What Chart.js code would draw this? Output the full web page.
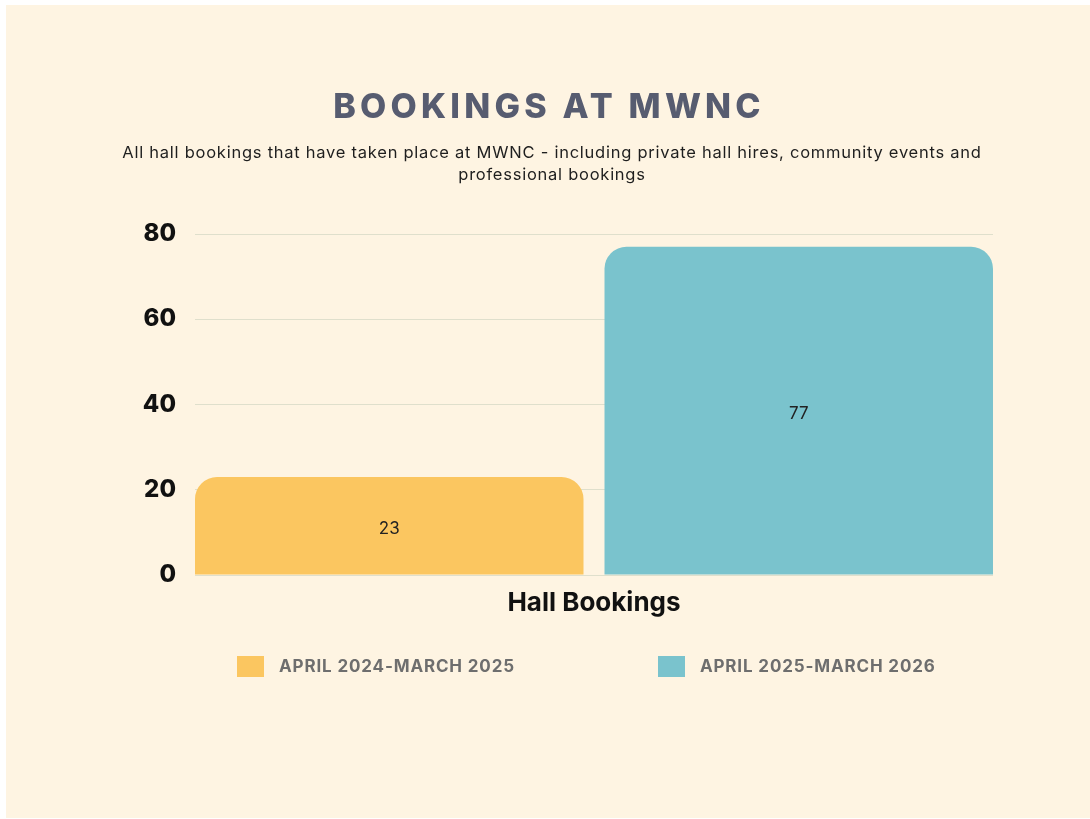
<!DOCTYPE html>
<html>
<head>
<meta charset="utf-8">
<title>Bookings at MWNC</title>
<script src="https://cdn.jsdelivr.net/npm/chart.js@4.4.1/dist/chart.umd.min.js"></script>
<style>
  html, body { margin: 0; padding: 0; background: #fff; }
  #card {
    position: absolute; left: 6px; top: 5px; width: 1084px; height: 813px;
    background: #fef4e2; font-family: Inter, sans-serif; overflow: hidden;
  }
  #card canvas { position: absolute; left: 0; top: 0; }
  h1 {
    position: absolute; left: 0; width: 100%; top: 84px; margin: 0;
    text-align: center; font-size: 34px; line-height: 34px; font-weight: 800;
    letter-spacing: 4.2px; padding-left: 2px; box-sizing: border-box; color: #575c70;
  }
  .sub {
    position: absolute; left: 0; width: 100%; top: 136px; margin: 0;
    padding-left: 8px; box-sizing: border-box;
    text-align: center; font-size: 16.5px; line-height: 22px; letter-spacing: 0.75px; color: #1e1e1e;
  }
  #legend { position: absolute; left: 231px; top: 651px; display: flex; gap: 143px; }
  .item { display: flex; align-items: center; }
  .box { width: 27px; height: 21px; margin-right: 15px; }
  .txt { font-size: 17px; font-weight: 700; letter-spacing: 0.85px; color: #6e6e6e; line-height: 21px; }
</style>
</head>
<body>
<div id="card">
  <canvas id="bookings" width="1084" height="813"></canvas>
  <h1>BOOKINGS AT MWNC</h1>
  <p class="sub">All hall bookings that have taken place at MWNC - including private hall hires, community events and<br>professional bookings</p>
  <div id="legend"></div>
</div>
<script>
// data
const categories = ['Hall Bookings'];
const seriesLabels = ['APRIL 2024-MARCH 2025', 'APRIL 2025-MARCH 2026'];
const seriesColors = ['#fbc660', '#7ac3cd'];
const bookings2024 = [23];
const bookings2025 = [77];
const yTicks = [0, 20, 40, 60, 80];

// numbers inside the bars
const valueLabels = {
    id: 'valueLabels',
    afterDatasetsDraw(chart) {
        const ctx = chart.ctx;
        ctx.save();
        ctx.font = '400 17px Inter';
        ctx.fillStyle = '#222';
        ctx.textAlign = 'center';
        ctx.textBaseline = 'middle';
        chart.data.datasets.forEach((ds, i) => {
            chart.getDatasetMeta(i).data.forEach((bar, j) => {
                ctx.fillText(ds.data[j], bar.x, (bar.y + bar.base) / 2 + 3);
            });
        });
        ctx.restore();
    }
};

const ctx = document.getElementById('bookings').getContext('2d');
const chart = new Chart(ctx, {
    type: 'bar',
    data: {
        labels: categories,
        datasets: [
            { label: seriesLabels[0], data: bookings2024, backgroundColor: seriesColors[0] },
            { label: seriesLabels[1], data: bookings2025, backgroundColor: seriesColors[1] }
        ]
    },
    options: {
        responsive: false,
        animation: false,
        layout: { padding: { top: 229, right: 97, bottom: 183, left: 0 } },
        datasets: {
            bar: {
                borderRadius: 22,
                categoryPercentage: 1.0263,
                barPercentage: 0.9487
            }
        },
        plugins: {
            legend: { display: false },
            tooltip: { enabled: false }
        },
        scales: {
            x: {
                grid: { display: false },
                border: { display: false },
                ticks: {
                    color: '#111',
                    padding: 5,
                    font: { family: 'Inter', size: 26, weight: '700' }
                },
                afterFit(scale) { scale.height = 60; }
            },
            y: {
                min: yTicks[0],
                max: yTicks[yTicks.length - 1],
                grid: { color: '#dfdfcc', drawTicks: false },
                border: { display: false },
                afterBuildTicks(scale) { scale.ticks = yTicks.map(v => ({ value: v })); },
                ticks: {
                    color: '#111',
                    padding: 19,
                    font: { family: 'Inter', size: 24, weight: '800' }
                },
                afterFit(scale) { scale.width = 189; }
            }
        }
    },
    plugins: [valueLabels]
});

// legend
const legend = document.getElementById('legend');
seriesLabels.forEach((name, i) => {
    const item = document.createElement('div');
    item.className = 'item';
    item.innerHTML = '<span class="box" style="background:' + seriesColors[i] + '"></span><span class="txt">' + name + '</span>';
    legend.appendChild(item);
});
</script>
</body>
</html>
